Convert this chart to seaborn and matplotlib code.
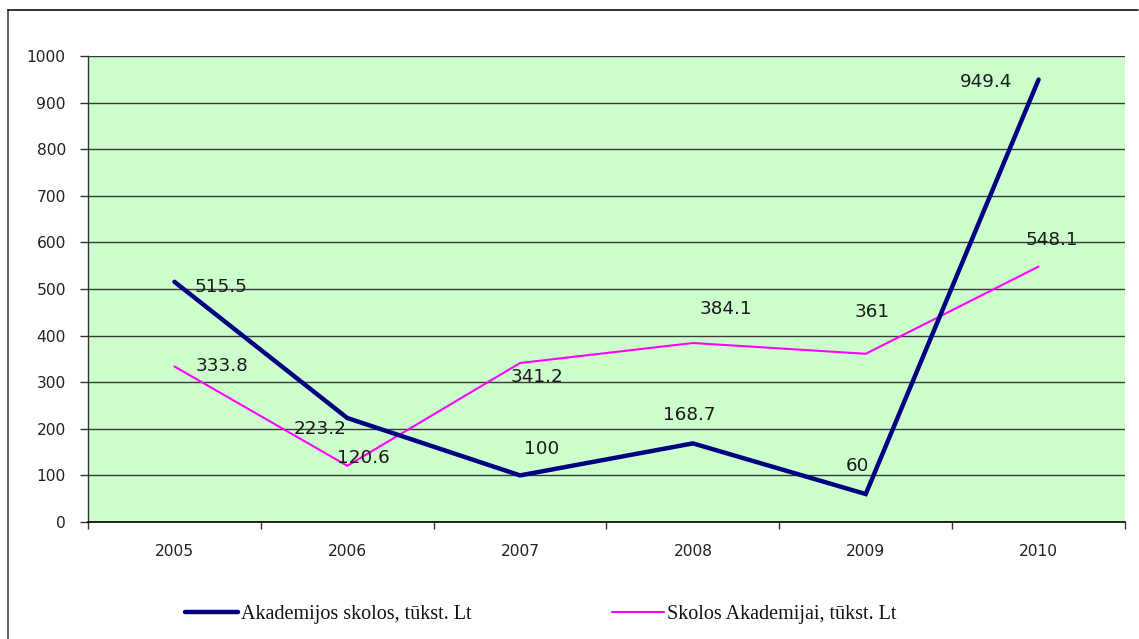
import matplotlib
matplotlib.use("Agg")
import matplotlib.pyplot as plt
import seaborn as sns
import pandas as pd
from matplotlib.lines import Line2D

years = ["2005", "2006", "2007", "2008", "2009", "2010"]
akademijos_skolos = [515.5, 223.2, 100, 168.7, 60, 949.4]
skolos_akademijai = [333.8, 120.6, 341.2, 384.1, 361, 548.1]
series_names = ["Akademijos skolos, tūkst. Lt", "Skolos Akademijai, tūkst. Lt"]
y_ticks = [0, 100, 200, 300, 400, 500, 600, 700, 800, 900, 1000]

# label offsets (pixels) relative to each point
offsets_a = [(47, -5), (-27, -11), (22, 26), (-4, 28), (-8, 28), (-53, -2)]
offsets_b = [(48, 0), (16, 8), (17, -14), (33, 34), (6, 42), (13, 27)]

sns.set_theme(style="white")
plt.rcParams["font.family"] = ["DejaVu Sans"]

fig = plt.figure(figsize=(11.39, 6.39), dpi=100)
ax = fig.add_axes([88 / 1139, 1 - 522 / 639, (1125 - 88) / 1139, (522 - 56) / 639])
ax.set_facecolor("#CCFFCC")

df = pd.DataFrame({
    "pos": list(range(len(years))) * 2,
    "value": akademijos_skolos + skolos_akademijai,
    "series": [series_names[0]] * len(years) + [series_names[1]] * len(years),
})

colors = {series_names[0]: "#000080", series_names[1]: "#FF00FF"}
widths = {series_names[0]: 3.2, series_names[1]: 1.5}

# thin line first so the thick one sits on top
for name in [series_names[1], series_names[0]]:
    sub = df[df["series"] == name]
    sns.lineplot(data=sub, x="pos", y="value", ax=ax, color=colors[name],
                 linewidth=widths[name], legend=False, zorder=3,
                 solid_capstyle="round", solid_joinstyle="miter")

for vals, offs in [(akademijos_skolos, offsets_a), (skolos_akademijai, offsets_b)]:
    for i, (v, (dx, dy)) in enumerate(zip(vals, offs)):
        lbl = f"{v:g}"
        ax.annotate(lbl, (i, v), xytext=(dx, dy), textcoords="offset pixels",
                    ha="center", va="center", fontsize=13.2, color="#1a1a1a", zorder=4)

ax.set_xlim(-0.5, len(years) - 0.5)
ax.set_ylim(0, 1000)
ax.set_yticks(y_ticks)
ax.set_yticklabels([str(t) for t in y_ticks])
ax.set_xticks(range(len(years)))
ax.set_xticklabels(years)
ax.set_xticks([i - 0.5 for i in range(len(years) + 1)], minor=True)
ax.tick_params(axis="x", which="major", length=0, pad=16, labelsize=11.2, labelcolor="#222222")
ax.tick_params(axis="x", which="minor", length=5, width=1, color="#333333", direction="out", bottom=True)
ax.tick_params(axis="y", which="major", length=6, width=1, color="#333333", pad=10,
               labelsize=11.2, labelcolor="#222222", left=True, direction="out")
ax.set_xlabel("")
ax.set_ylabel("")

ax.grid(axis="y", color="#3a3a3a", linewidth=1.0, zorder=1)
ax.set_axisbelow(True)
for side in ["top", "right"]:
    ax.spines[side].set_visible(False)
ax.spines["left"].set_color("#333333")
ax.spines["left"].set_linewidth(1.0)
ax.spines["bottom"].set_color("#000000")
ax.spines["bottom"].set_linewidth(1.2)

# outer frame (left and top edges)
fig.add_artist(Line2D([8 / 1139, 8 / 1139], [0, 1 - 10 / 639], transform=fig.transFigure,
                      color="#444444", linewidth=1.2))
fig.add_artist(Line2D([8 / 1139, 1138 / 1139], [1 - 10 / 639, 1 - 10 / 639], transform=fig.transFigure,
                      color="#111111", linewidth=1.2))

handles = [Line2D([], [], color=colors[n], linewidth=widths[n]) for n in series_names]
leg = fig.legend(handles, series_names, loc="center", bbox_to_anchor=(541 / 1139, 1 - 614 / 639),
                 ncol=2, frameon=False, handlelength=2.6, handletextpad=0.15, columnspacing=7.0,
                 prop={"family": "Liberation Serif", "size": 14.5})
for t in leg.get_texts():
    t.set_color("#111111")

fig.savefig("out.png", dpi=100)
